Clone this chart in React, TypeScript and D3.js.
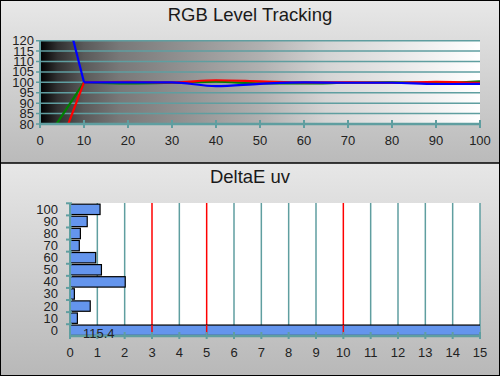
import React from "react";
import * as d3 from "d3";

const levels = [0, 10, 20, 30, 40, 50, 60, 70, 80, 90, 100];
const redValues = [44, 100, 100.3, 100, 101, 100.5, 100, 100, 99.8, 100.3, 99.7];
const greenValues = [68, 100, 99.5, 99.8, 100.3, 99.5, 99.5, 99.8, 100, 99.6, 100.5];
const blueValues = [183, 100, 100, 100, 98.2, 99.3, 100, 99.8, 99.8, 99.2, 99.3];
const rgbYTicks = [80, 85, 90, 95, 100, 105, 110, 115, 120];
const rgbXTicks = [0, 10, 20, 30, 40, 50, 60, 70, 80, 90, 100];

const deltaCategories = ["100", "90", "80", "70", "60", "50", "40", "30", "20", "10", "0"];
const deltaValues = [1.1, 0.63, 0.38, 0.34, 0.94, 1.15, 2.02, 0.16, 0.74, 0.27, 115.4];
const deltaXTicks = d3.range(0, 16);
const redThresholds = [3, 5, 10];

const W = 500;
const H = 376;
const TEAL = "#5f9ea0";
const FONT = "'Liberation Sans', Arial, sans-serif";

export default function App() {
  // Top chart scales
  const x1 = d3.scaleLinear().domain([0, 100]).range([40, 480]);
  const y1 = d3.scaleLinear().domain([80, 120]).range([124, 40.7]);
  const pts = (vals: number[]) => vals.map((v, i) => [x1(levels[i]), y1(v)] as [number, number]);
  const straight = d3.line().curve(d3.curveLinear);
  const smooth = d3.line().curve(d3.curveMonotoneX);

  // Bottom chart scales
  const x2 = d3.scaleLinear().domain([0, 15]).range([70, 480]);
  const y2 = d3
    .scaleBand<string>()
    .domain(deltaCategories)
    .range([203.3, 336.3])
    .paddingInner(0.14)
    .paddingOuter(0.07);
  const bandStep = y2.step();
  const bandStart = 203.3;

  const series = [
    { vals: greenValues, color: "#008000" },
    { vals: redValues, color: "#ff0000" },
    { vals: blueValues, color: "#0000ff" },
  ];

  return (
    <svg width={W} height={H} style={{ position: "absolute", left: 0, top: 0 }} fontFamily={FONT}>
      <defs>
        <linearGradient id="panelTop" x1="0" y1="0" x2="0" y2="1">
          <stop offset="0" stopColor="#e8e8e8" />
          <stop offset="1" stopColor="#bababa" />
        </linearGradient>
        <linearGradient id="panelBottom" x1="0" y1="0" x2="0" y2="1">
          <stop offset="0" stopColor="#e7e7e7" />
          <stop offset="1" stopColor="#b8b8b8" />
        </linearGradient>
        <linearGradient id="plotGrad" x1="0" y1="0" x2="1" y2="0">
          <stop offset="0" stopColor="#000000" />
          <stop offset="0.04" stopColor="#303030" />
          <stop offset="0.1" stopColor="#5a5a5a" />
          <stop offset="0.18" stopColor="#787878" />
          <stop offset="0.5" stopColor="#b0b0b0" />
          <stop offset="0.65" stopColor="#d4d4d4" />
          <stop offset="1" stopColor="#ffffff" />
        </linearGradient>
        <clipPath id="clipTop">
          <rect x={40} y={40.7} width={440} height={83.3} />
        </clipPath>
        <clipPath id="clipBottom">
          <rect x={70} y={203} width={410} height={133} />
        </clipPath>
      </defs>

      {/* Panels */}
      <rect x={0} y={0} width={W} height={163} fill="url(#panelTop)" />
      <rect x={0} y={163} width={W} height={H - 163} fill="url(#panelBottom)" />

      {/* ===== Top chart ===== */}
      <text x={250} y={21} textAnchor="middle" fontSize={18.5} fill="#1a1a1a">
        RGB Level Tracking
      </text>
      <rect x={40} y={40.7} width={440} height={83.3} fill="url(#plotGrad)" />
      {rgbYTicks.map((t) => (
        <g key={"gy" + t}>
          <line x1={36} x2={480} y1={y1(t)} y2={y1(t)} stroke={TEAL} strokeWidth={1.5} />
          <text x={34} y={y1(t) + 4.5} textAnchor="end" fontSize={13} fill="#222">
            {t}
          </text>
        </g>
      ))}
      <g clipPath="url(#clipTop)">
        {series.map((s, i) => {
          const p = pts(s.vals);
          return (
            <g key={i}>
              <path d={straight(p.slice(0, 2)) || ""} fill="none" stroke={s.color} strokeWidth={2.2} />
              <path d={smooth(p.slice(1)) || ""} fill="none" stroke={s.color} strokeWidth={2.2} />
            </g>
          );
        })}
      </g>
      <line x1={40} x2={40} y1={40.7} y2={125} stroke={TEAL} strokeWidth={2} />
      <line x1={40} x2={481} y1={124} y2={124} stroke={TEAL} strokeWidth={2.5} />
      {rgbXTicks.map((t) => (
        <g key={"tx" + t}>
          <line x1={x1(t)} x2={x1(t)} y1={120} y2={128} stroke={TEAL} strokeWidth={2} />
          <text x={x1(t)} y={145} textAnchor="middle" fontSize={13} fill="#222">
            {t}
          </text>
        </g>
      ))}

      {/* ===== Bottom chart ===== */}
      <text x={250} y={183} textAnchor="middle" fontSize={18.5} fill="#1a1a1a">
        DeltaE uv
      </text>
      <rect x={70} y={203} width={410} height={133} fill="#ffffff" />
      {deltaXTicks.map((t) => (
        <line
          key={"gx" + t}
          x1={x2(t)}
          x2={x2(t)}
          y1={203}
          y2={336}
          stroke={redThresholds.includes(t) ? "#ff0000" : TEAL}
          strokeWidth={1.5}
        />
      ))}
      <g clipPath="url(#clipBottom)">
        {deltaCategories.map((c, i) => (
          <rect
            key={"b" + c}
            x={x2(0)}
            y={y2(c) as number}
            width={Math.max(0, x2(deltaValues[i]) - x2(0))}
            height={y2.bandwidth()}
            fill="#6495ed"
            stroke="#000"
            strokeWidth={1.2}
          />
        ))}
      </g>
      {redThresholds.map((t) => (
        <line key={"r" + t} x1={x2(t)} x2={x2(t)} y1={325} y2={336} stroke="#ff0000" strokeWidth={1.5} />
      ))}
      {deltaCategories.map((c, i) => (
        <g key={"yl" + c}>
          <line
            x1={66}
            x2={72}
            y1={bandStart + i * bandStep}
            y2={bandStart + i * bandStep}
            stroke={TEAL}
            strokeWidth={2}
          />
          <text
            x={58}
            y={(y2(c) as number) + y2.bandwidth() / 2 + 4.5}
            textAnchor="end"
            fontSize={13}
            fill="#222"
          >
            {c}
          </text>
        </g>
      ))}
      <line x1={70} x2={70} y1={203} y2={337} stroke={TEAL} strokeWidth={2} />
      <line x1={69} x2={481} y1={336} y2={336} stroke={TEAL} strokeWidth={2.5} />
      {deltaXTicks.map((t) => (
        <g key={"bx" + t}>
          <line x1={x2(t)} x2={x2(t)} y1={332} y2={339} stroke={TEAL} strokeWidth={2} />
          <text x={x2(t)} y={357} textAnchor="middle" fontSize={13} fill="#222">
            {t}
          </text>
        </g>
      ))}
      <text x={83} y={338} fontSize={13} fill="#222">
        {deltaValues[deltaValues.length - 1].toFixed(1)}
      </text>

      {/* Borders */}
      <line x1={0} x2={W} y1={163} y2={163} stroke="#000" strokeWidth={1.5} />
      <rect x={0.5} y={0.5} width={W - 1} height={H - 1} fill="none" stroke="#000" strokeWidth={1} />
    </svg>
  );
}
